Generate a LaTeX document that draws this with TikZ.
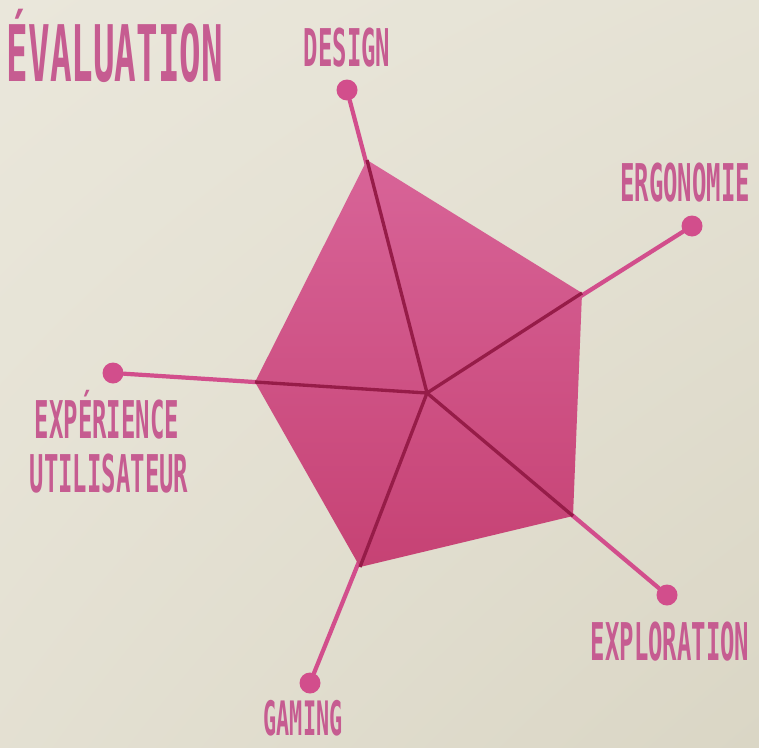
\documentclass[tikz,border=0pt]{standalone}
\usepackage{fontspec}
\newfontfamily\etiq[FakeStretch=0.46]{DejaVu Sans Mono Bold}
\usetikzlibrary{calc,shadings}
\definecolor{fondclair}{RGB}{234,231,219}
\definecolor{fondfonce}{RGB}{218,214,197}
\definecolor{rose}{RGB}{210,78,140}
\definecolor{rosefonce}{RGB}{150,28,72}
\definecolor{rosehaut}{RGB}{216,100,152}
\definecolor{rosebas}{RGB}{198,66,116}
\definecolor{texte}{RGB}{198,92,145}
\tikzset{
pastille/.style={circle,fill=rose,inner sep=0pt,minimum size=0.42cm},
rayon/.style={line width=2.4pt,draw=rose,line cap=round},
rayon int/.style={line width=1.9pt,draw=rosefonce},
etiquette/.style={text=texte,inner sep=0pt,text depth=0pt,
  font=\etiq\fontsize{29.6}{30}\selectfont,text height=0.76cm},
titre/.style={etiquette,font=\etiq\fontsize{44.4}{45}\selectfont,text height=1.14cm}}

\begin{document}
\begin{tikzpicture}[x=0.02cm,y=-0.02cm]
\shade[upper left=fondclair,upper right=fondclair!70!fondfonce,
  lower left=fondclair!60!fondfonce,lower right=fondfonce] (0,0) rectangle (759,747);
\useasboundingbox (0,0) rectangle (759,747);

% centre et sommets du polygone
\coordinate (c) at (427,393);
\coordinate (v1) at (367,160);
\coordinate (v2) at (582,293);
\coordinate (v3) at (573,516);
\coordinate (v4) at (360,567);
\coordinate (v5) at (255,382);

% extremites des axes
\node[pastille] (design) at (347,90) {};
\node[pastille] (ergo) at (692,226) {};
\node[pastille] (explo) at (667,595) {};
\node[pastille] (gaming) at (310,683) {};
\node[pastille] (xp) at (113,373) {};

\path[rayon]
	(c) edge (design)
	(c) edge (ergo)
	(c) edge (explo)
	(c) edge (gaming)
	(c) edge (xp);

\shade[top color=rosehaut,bottom color=rosebas]
	(v1) -- (v2) -- (v3) -- (v4) -- (v5) -- cycle;

\path[rayon int]
	(c) edge (v1)
	(c) edge (v2)
	(c) edge (v3)
	(c) edge (v4)
	(c) edge (v5);

% textes
\node[titre] (t0) at (115,53) {ÉVALUATION};
\node[etiquette] (t1) at (347,48) {DESIGN};
\node[etiquette] (t2) at (685,182) {ERGONOMIE};
\node[etiquette] (t3) at (670,641) {EXPLORATION};
\node[etiquette,font=\etiq\fontsize{27}{28}\selectfont,text height=0.69cm] (t4) at (303,718) {GAMING};
\node[etiquette] (t5) at (107,419) {EXPÉRIENCE};
\node[etiquette] (t6) at (109,473) {UTILISATEUR};
\end{tikzpicture}
\end{document}
